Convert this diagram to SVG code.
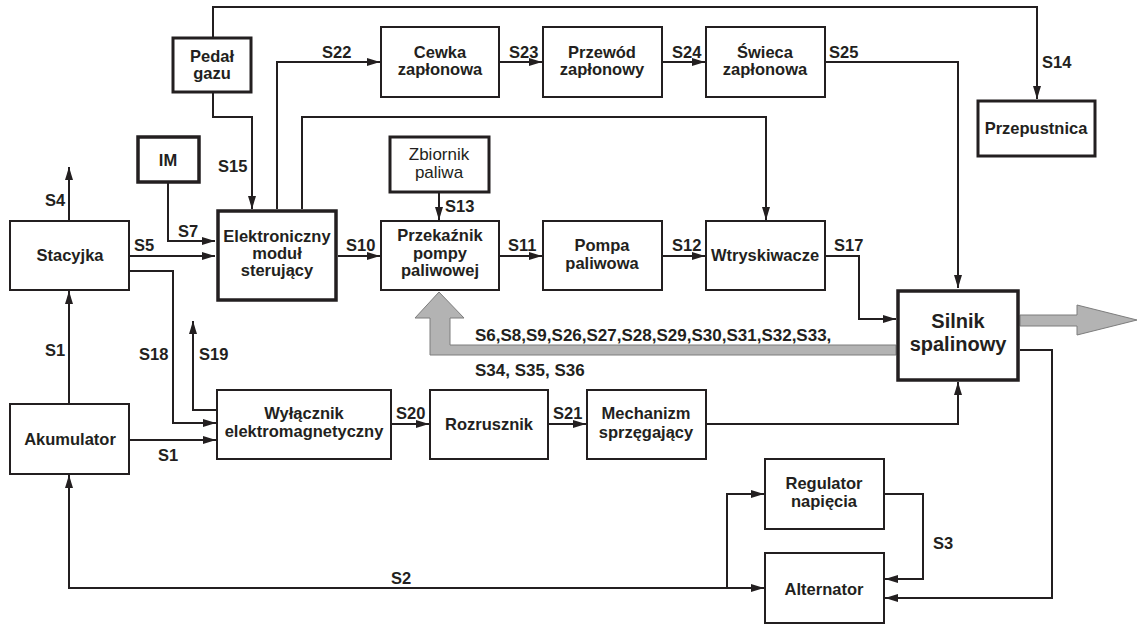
<svg xmlns="http://www.w3.org/2000/svg" width="1138" height="624" viewBox="0 0 1138 624">
<style>
.box{fill:#fff;stroke:#231f20;stroke-width:2}
.thick{stroke-width:3.5}
.mid{stroke-width:3}
.t{font-family:"Liberation Sans",Arial,sans-serif;font-weight:bold;font-size:16.5px;fill:#231f20;text-anchor:middle}
.r{font-weight:normal;font-size:17px}
.big{font-size:20px}
.l{font-family:"Liberation Sans",Arial,sans-serif;font-weight:bold;font-size:16.5px;fill:#231f20}
.c{fill:none;stroke:#231f20;stroke-width:2}
.a{marker-end:url(#ah)}
.g{fill:#b3b3b3;stroke:#7d7d7d;stroke-width:1}
</style>
<defs>
<marker id="ah" markerUnits="userSpaceOnUse" markerWidth="14" markerHeight="8" refX="13" refY="4" orient="auto">
<path d="M0,0 L13,4 L0,8 z" fill="#231f20"/>
</marker>
</defs>
<g id="connectors">
<path class="c a" d="M213,37 V7 H1037 V99"/>
<path class="c a" d="M213,92 V117 H252 V209"/>
<path class="c a" d="M277,209 V62 H380"/>
<path class="c a" d="M302,209 V117 H766 V220"/>
<path class="c a" d="M168,182 V241 H215"/>
<path class="c a" d="M129,256 H215"/>
<path class="c a" d="M338,256 H380"/>
<path class="c a" d="M439,192 V220"/>
<path class="c a" d="M499,256 H542"/>
<path class="c a" d="M662,256 H705"/>
<path class="c a" d="M825,256 H859 V319 H896"/>
<path class="c a" d="M499,62 H542"/>
<path class="c a" d="M662,62 H705"/>
<path class="c a" d="M825,62 H958 V288"/>
<path class="c a" d="M69,221 V167"/>
<path class="c a" d="M69,404 V291"/>
<path class="c a" d="M129,271 H173 V423 H216"/>
<path class="c a" d="M217,410 H193 V321"/>
<path class="c a" d="M129,440 H216"/>
<path class="c a" d="M391,424 H429"/>
<path class="c a" d="M548,424 H586"/>
<path class="c a" d="M706,424 H958 V382"/>
<path class="c a" d="M727,588 H69 V475"/>
<path class="c a" d="M727,588 H764"/>
<path class="c a" d="M727,588 V494 H764"/>
<path class="c a" d="M884,494 H923 V579 H885"/>
<path class="c a" d="M1020,350 H1052 V598 H885"/>
<polygon class="g" points="1020,315 1077,315 1077,305 1137,320 1077,335 1077,326 1020,326"/>
<polygon class="g" points="896,345 450,345 450,318 464,318 439,292 415,318 430,318 430,355 896,355"/>
</g>
<g id="pedal"><rect class="box mid" x="173" y="38" width="78" height="54"/><text class="t" x="212" y="62">Pedał</text><text class="t" x="212" y="79">gazu</text></g>
<g id="cewka"><rect class="box" x="381" y="27" width="118" height="70"/><text class="t" x="440" y="58">Cewka</text><text class="t" x="440" y="75">zapłonowa</text></g>
<g id="przewod"><rect class="box" x="543" y="27" width="119" height="70"/><text class="t" x="602" y="58">Przewód</text><text class="t" x="602" y="75">zapłonowy</text></g>
<g id="swieca"><rect class="box" x="706" y="27" width="119" height="70"/><text class="t" x="765" y="58">Świeca</text><text class="t" x="765" y="75">zapłonowa</text></g>
<g id="przepustnica"><rect class="box mid" x="978" y="101" width="117" height="55"/><text class="t" x="1036" y="134">Przepustnica</text></g>
<g id="im"><rect class="box thick" x="138" y="137" width="61" height="45"/><text class="t" x="168" y="166">IM</text></g>
<g id="zbiornik"><rect class="box mid" x="390" y="137" width="99" height="55"/><text class="t r" x="439" y="160">Zbiornik</text><text class="t r" x="439" y="178">paliwa</text></g>
<g id="stacyjka"><rect class="box" x="10" y="221" width="119" height="69"/><text class="t" x="70" y="261">Stacyjka</text></g>
<g id="ems"><rect class="box thick" x="218" y="211" width="118" height="89"/><text class="t" x="277" y="242">Elektroniczny</text><text class="t" x="277" y="259">moduł</text><text class="t" x="277" y="276">sterujący</text></g>
<g id="przekaznik"><rect class="box" x="381" y="221" width="118" height="69"/><text class="t" x="440" y="241">Przekaźnik</text><text class="t" x="440" y="259">pompy</text><text class="t" x="440" y="276">paliwowej</text></g>
<g id="pompa"><rect class="box" x="543" y="221" width="119" height="69"/><text class="t" x="602" y="251">Pompa</text><text class="t" x="602" y="269">paliwowa</text></g>
<g id="wtryskiwacze"><rect class="box" x="706" y="221" width="119" height="69"/><text class="t" x="765" y="261">Wtryskiwacze</text></g>
<g id="silnik"><rect class="box thick" x="898" y="291" width="120" height="89"/><text class="t big" x="958" y="328">Silnik</text><text class="t big" x="958" y="351">spalinowy</text></g>
<g id="akumulator"><rect class="box" x="10" y="404" width="119" height="70"/><text class="t" x="70" y="445">Akumulator</text></g>
<g id="wylacznik"><rect class="box" x="217" y="390" width="174" height="69"/><text class="t" x="304" y="419">Wyłącznik</text><text class="t" x="304" y="437">elektromagnetyczny</text></g>
<g id="rozrusznik"><rect class="box" x="430" y="390" width="118" height="69"/><text class="t" x="489" y="430">Rozrusznik</text></g>
<g id="mechanizm"><rect class="box" x="587" y="390" width="119" height="69"/><text class="t" x="646" y="419">Mechanizm</text><text class="t" x="646" y="438">sprzęgający</text></g>
<g id="regulator"><rect class="box" x="765" y="459" width="119" height="70"/><text class="t" x="824" y="489">Regulator</text><text class="t" x="824" y="507">napięcia</text></g>
<g id="alternator"><rect class="box" x="765" y="553" width="119" height="70"/><text class="t" x="824" y="595">Alternator</text></g>
<g id="labels">
<text class="l" x="322" y="58">S22</text>
<text class="l" x="509" y="58">S23</text>
<text class="l" x="672" y="58">S24</text>
<text class="l" x="829" y="58">S25</text>
<text class="l" x="1042" y="68">S14</text>
<text class="l" x="218" y="172">S15</text>
<text class="l" x="45" y="206">S4</text>
<text class="l" x="178" y="237">S7</text>
<text class="l" x="134" y="251">S5</text>
<text class="l" x="346" y="251">S10</text>
<text class="l" x="508" y="251">S11</text>
<text class="l" x="672" y="251">S12</text>
<text class="l" x="834" y="251">S17</text>
<text class="l" x="445" y="212">S13</text>
<text class="l" x="45" y="356">S1</text>
<text class="l" x="139" y="360">S18</text>
<text class="l" x="199" y="360">S19</text>
<text class="l" x="396" y="419">S20</text>
<text class="l" x="553" y="419">S21</text>
<text class="l" x="158" y="461">S1</text>
<text class="l" x="933" y="549">S3</text>
<text class="l" x="391" y="584">S2</text>
<text class="l" x="475" y="341" style="font-size:17px">S6,S8,S9,S26,S27,S28,S29,S30,S31,S32,S33,</text>
<text class="l" x="475" y="376" style="font-size:17px">S34, S35, S36</text>
</g>
</svg>
